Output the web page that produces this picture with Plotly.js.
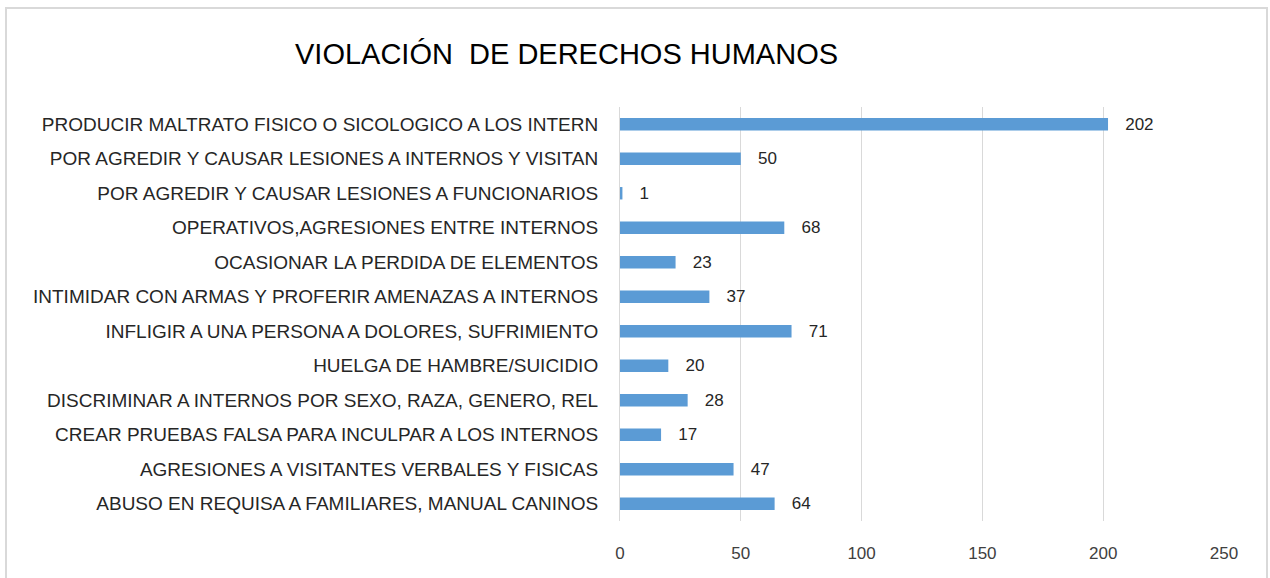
<!DOCTYPE html>
<html>
<head>
<meta charset="utf-8">
<script src="https://cdn.plot.ly/plotly-3.0.1.min.js"></script>
<style>html,body{margin:0;padding:0;background:#fff;}#chart{width:1270px;height:578px;}</style>
</head>
<body>
<div id="chart"></div>
<script>
const categories = [
  "PRODUCIR MALTRATO FISICO O SICOLOGICO A LOS INTERN",
  "POR AGREDIR Y CAUSAR LESIONES A INTERNOS Y VISITAN",
  "POR AGREDIR Y CAUSAR LESIONES A FUNCIONARIOS",
  "OPERATIVOS,AGRESIONES ENTRE INTERNOS",
  "OCASIONAR LA PERDIDA DE ELEMENTOS",
  "INTIMIDAR CON ARMAS Y PROFERIR AMENAZAS A INTERNOS",
  "INFLIGIR A UNA PERSONA A DOLORES, SUFRIMIENTO",
  "HUELGA DE HAMBRE/SUICIDIO",
  "DISCRIMINAR A INTERNOS POR SEXO, RAZA, GENERO, REL",
  "CREAR PRUEBAS FALSA PARA INCULPAR A LOS INTERNOS",
  "AGRESIONES A VISITANTES VERBALES Y FISICAS",
  "ABUSO EN REQUISA A FAMILIARES, MANUAL CANINOS"
];
const values = [202, 50, 1, 68, 23, 37, 71, 20, 28, 17, 47, 64];
const xTickVals = [0, 50, 100, 150, 200, 250];
const chartTitle = "VIOLACIÓN&nbsp; DE DERECHOS HUMANOS";

const TEXTFONT = "'Liberation Sans', Arial, sans-serif";

const trace = {
  type: 'bar',
  orientation: 'h',
  y: categories,
  x: values,
  marker: {color: '#5B9BD5'},
  texttemplate: '\u00a0\u00a0\u00a0%{x}',
  textposition: 'outside',
  constraintext: 'none',
  cliponaxis: false,
  textfont: {family: TEXTFONT, size: 17, color: '#262626'},
  hoverinfo: 'none'
};

const layout = {
  width: 1270, height: 578,
  margin: {l: 620, r: 46, t: 107, b: 57},
  paper_bgcolor: '#fff', plot_bgcolor: '#fff',
  showlegend: false,
  bargap: 0.64,
  title: {
    text: chartTitle,
    font: {family: TEXTFONT, size: 29, color: '#000'},
    x: 295/1270, xanchor: 'left', xref: 'container',
    y: 1 - 54/578, yanchor: 'middle', yref: 'container'
  },
  xaxis: {
    range: [0, 250],
    tickvals: xTickVals,
    ticktext: xTickVals.map(String),
    showgrid: true, gridcolor: '#d9d9d9', gridwidth: 1,
    zeroline: false, showline: false,
    ticks: 'outside', ticklen: 17, tickcolor: 'rgba(0,0,0,0)',
    tickfont: {family: TEXTFONT, size: 17, color: '#404040'},
    fixedrange: true
  },
  yaxis: {
    type: 'category',
    autorange: 'reversed',
    showgrid: false, zeroline: false,
    showline: true, linecolor: '#d9d9d9', linewidth: 1,
    ticks: 'outside', ticklen: 17, tickcolor: 'rgba(0,0,0,0)',
    tickfont: {family: TEXTFONT, size: 19, color: '#262626'},
    fixedrange: true
  },
  shapes: [{
    type: 'rect', xref: 'paper', yref: 'paper',
    x0: (6 - 620) / 604, x1: (1267 - 620) / 604,
    y0: (521 - 600) / 414, y1: (521 - 8) / 414,
    line: {color: '#d9d9d9', width: 2}, fillcolor: 'rgba(0,0,0,0)',
    layer: 'below'
  }]
};

Plotly.newPlot('chart', [trace], layout, {displayModeBar: false, staticPlot: true});
</script>
</body>
</html>
